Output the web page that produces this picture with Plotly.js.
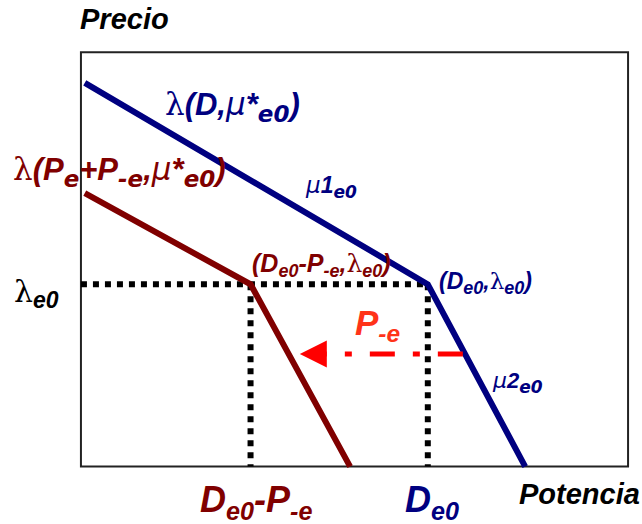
<!DOCTYPE html>
<html>
<head>
<meta charset="utf-8">
<script src="https://cdn.plot.ly/plotly-3.0.1.min.js"></script>
<style>
  html, body { margin: 0; padding: 0; background: #fff; }
  #chart { width: 642px; height: 524px; }
</style>
</head>
<body>
<div id="chart"></div>
<script>
// ---- Values of the diagram (arbitrary units, axes run 0..100) ----
const axisMax = 100;

// Equilibrium point
const lambdaE0 = 44;      // λe0
const De0 = 63.4;         // De0
const De0MinusPe = 31;    // De0 - P-e

// Demand curve λ(D, μ*e0): slope μ1e0 above the kink, μ2e0 below it
const demandX = [0.7, De0, 81.2];
const demandY = [92.6, lambdaE0, 0];

// Residual curve λ(Pe + P-e, μ*e0)
const residualX = [0.7, De0MinusPe, 49.2];
const residualY = [66, lambdaE0, 0];

// Shift P-e, drawn from the demand curve towards the residual curve
const shiftY = 27.2;
const shiftFrom = 69.8;
const shiftHeadBase = 45.2;
const shiftTip = 40;

// ---- Styling ----
const NAVY = '#000080';
const MAROON = '#800000';
const RED = '#FF0000';
const SANS = 'Liberation Sans, Arial, sans-serif';

const M = { l: 70, r: 3, t: 44, b: 45 };
const W = 642, H = 524;
// pixel position -> paper fraction (for free-standing labels)
const px = p => (p - M.l) / (W - M.l - M.r);
const py = p => (H - M.b - p) / (H - M.t - M.b);

const LAM = '<span style="font-family:DejaVu Serif;font-weight:normal;font-style:normal">λ</span>';
const MU = '<span style="font-family:DejaVu Sans;font-weight:normal">μ</span>';
// subscripts: plain size, or a wider face at an explicit size
const sub = (t, size) => '<sub><span style="font-size:' + size + 'px">' + t + '</span></sub>';
const wsub = (t, size) => '<sub><span style="font-family:DejaVu Sans;font-size:' + size + 'px">' + t + '</span></sub>';

const guide = { color: '#000', width: 6, dash: '6px,6px' };

const traces = [
  { x: [0, De0], y: [lambdaE0, lambdaE0], mode: 'lines', line: guide },
  { x: [De0MinusPe, De0MinusPe], y: [lambdaE0, 0], mode: 'lines', line: guide },
  { x: [De0, De0], y: [lambdaE0, 0], mode: 'lines', line: guide },
  { x: demandX, y: demandY, mode: 'lines', line: { color: NAVY, width: 6 } },
  { x: residualX, y: residualY, mode: 'lines', line: { color: MAROON, width: 6 } },
  { x: [shiftFrom, shiftHeadBase], y: [shiftY, shiftY], mode: 'lines',
    line: { color: RED, width: 5, dash: '25px,18px,7px,18px' } }
];

function label(text, x, y, size, color, extra) {
  return Object.assign({
    text: text, x: px(x), y: py(y), xref: 'paper', yref: 'paper',
    xanchor: 'left', yanchor: 'middle', showarrow: false,
    font: { family: SANS, size: size, color: color, weight: 'bold', style: 'italic' }
  }, extra || {});
}

const annotations = [
  label('Precio', 78, 19, 29, '#000'),
  label('Potencia', 517, 494, 29, '#000'),
  label(LAM + '(D,' + MU + '*' + wsub('e0', 23) + ')', 163, 106, 31, NAVY),
  label(LAM + '(P' + wsub('e', 23) + '+P' + wsub('-e', 23) + ',' + MU + '*' + wsub('e0', 23) + ')',
        11, 171, 31, MAROON),
  label(MU + '1' + wsub('e0', 17), 303, 187, 23, NAVY),
  label('(D' + sub('e0', 18) + '-P' + sub('-e', 18) + ',' + LAM + sub('e0', 18) + ')', 250, 265, 25, MAROON),
  label('(D' + sub('e0', 18) + ',' + LAM + sub('e0', 18) + ')', 437, 283, 23, NAVY),
  label(LAM + sub('e0', 23), 12, 293, 30, '#000'),
  label('P<sub>-e</sub>', 353, 325, 35, '#FF3319'),
  label(MU + '2' + wsub('e0', 17), 490, 382, 22, NAVY),
  // tick-like labels under the axis, centred on their guide lines
  { text: 'D<sub>e0</sub>-P<sub>-e</sub>', x: De0MinusPe, xref: 'x', y: py(502), yref: 'paper',
    xanchor: 'center', yanchor: 'middle', xshift: 5, showarrow: false,
    font: { family: SANS, size: 36, color: MAROON, weight: 'bold', style: 'italic' } },
  { text: 'D<sub>e0</sub>', x: De0, xref: 'x', y: py(502), yref: 'paper',
    xanchor: 'center', yanchor: 'middle', xshift: 4, showarrow: false,
    font: { family: SANS, size: 36, color: NAVY, weight: 'bold', style: 'italic' } },
  // arrow head of the P-e shift
  { x: shiftTip, y: shiftY, xref: 'x', yref: 'y', ax: shiftHeadBase, ay: shiftY,
    axref: 'x', ayref: 'y', text: '', showarrow: true, arrowhead: 2,
    arrowsize: 1.08, arrowwidth: 5, arrowcolor: RED }
];

const layout = {
  width: W, height: H,
  margin: M,
  paper_bgcolor: '#fff', plot_bgcolor: '#fff',
  showlegend: false,
  xaxis: { range: [-2, axisMax + 2], visible: false, fixedrange: true },
  yaxis: { range: [-3, axisMax + 2], visible: false, fixedrange: true },
  shapes: [
    { type: 'rect', xref: 'x', yref: 'y', x0: 0, x1: axisMax, y0: 0, y1: axisMax,
      line: { color: '#222', width: 2 }, layer: 'below' }
  ],
  annotations: annotations
};

Plotly.newPlot('chart', traces, layout, { staticPlot: true, displayModeBar: false });
</script>
</body>
</html>
